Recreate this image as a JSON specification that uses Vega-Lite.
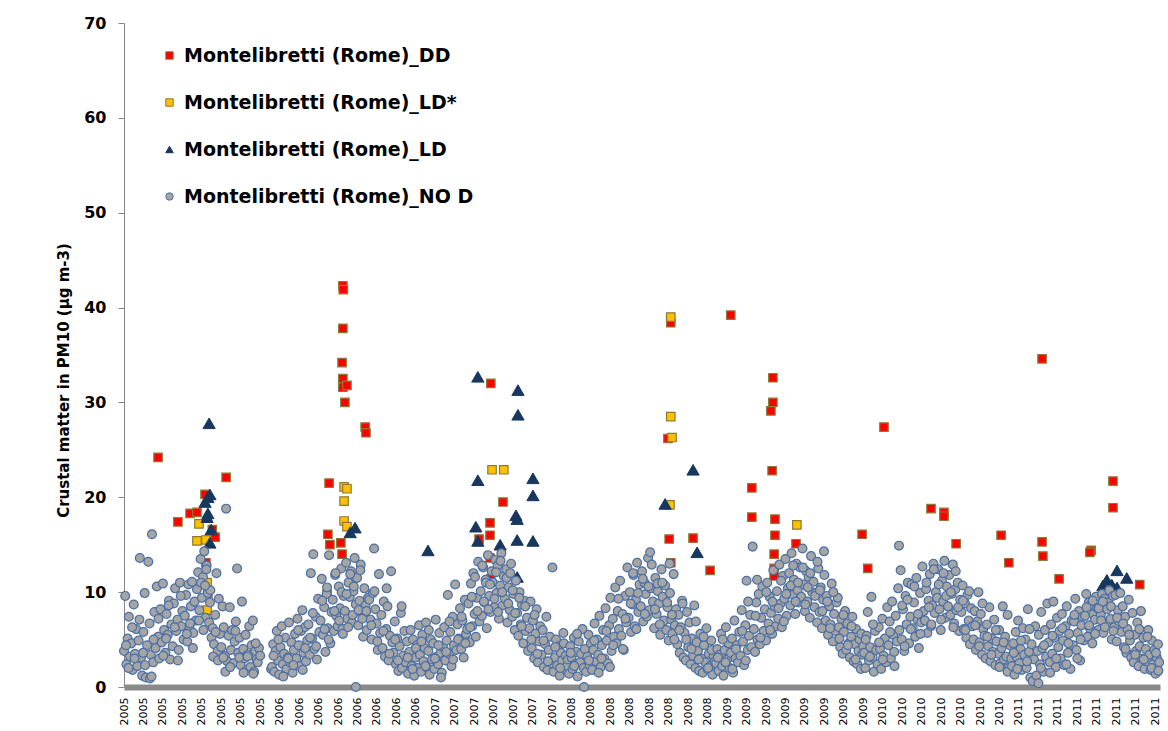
{
"$schema": "https://vega.github.io/schema/vega-lite/v6.json",
"width": 1036, "height": 664,
"autosize": {"type": "none"},
"padding": {"left": 124, "top": 23, "right": 8, "bottom": 44},
"background": "white",
"config": {"view": {"stroke": null}, "font": "DejaVu Sans"},
"datasets": {
"dd": [{"d":84,"v":24.2},{"d":133,"v":17.4},{"d":163,"v":18.3},{"d":180,"v":18.4},{"d":200,"v":20.3},{"d":252,"v":22.1},{"d":225,"v":15.8},{"d":218,"v":16.6},{"d":202,"v":13.1},
{"d":506,"v":21.5},{"d":503,"v":16.1},{"d":508,"v":15.0},{"d":535,"v":15.2},{"d":538,"v":14.0},{"d":501,"v":9.8},{"d":540,"v":42.3},{"d":541,"v":41.9},{"d":540,"v":37.8},{"d":538,"v":34.2},{"d":540,"v":32.5},{"d":540,"v":31.6},{"d":550,"v":31.8},{"d":545,"v":30.0},{"d":595,"v":27.4},{"d":597,"v":26.8},
{"d":905,"v":32.0},{"d":935,"v":19.5},{"d":903,"v":17.3},{"d":903,"v":16.0},{"d":903,"v":13.6},{"d":905,"v":11.4},{"d":876,"v":15.6},
{"d":1349,"v":38.4},{"d":1342,"v":26.2},{"d":1345,"v":15.6},{"d":1349,"v":13.1},{"d":1404,"v":15.7},{"d":1446,"v":12.3},
{"d":1497,"v":39.2},{"d":1601,"v":32.6},{"d":1601,"v":30.0},{"d":1596,"v":29.1},{"d":1599,"v":22.8},{"d":1549,"v":21.0},{"d":1549,"v":17.9},{"d":1606,"v":17.7},{"d":1606,"v":16.0},{"d":1604,"v":14.0},{"d":1604,"v":12.5},{"d":1604,"v":11.7},{"d":1658,"v":15.1},
{"d":1821,"v":16.1},{"d":1835,"v":12.5},{"d":1875,"v":27.4},{"d":1991,"v":18.8},{"d":2023,"v":18.4},{"d":2023,"v":18.0},{"d":2053,"v":15.1},{"d":2164,"v":16.0},{"d":2183,"v":13.1},
{"d":2265,"v":34.6},{"d":2265,"v":15.3},{"d":2267,"v":13.8},{"d":2307,"v":11.4},{"d":2386,"v":14.4},{"d":2383,"v":14.2},{"d":2440,"v":21.7},{"d":2440,"v":18.9},{"d":2506,"v":10.8}],
"ldstar": [{"d":185,"v":17.2},{"d":180,"v":15.4},{"d":202,"v":15.5},{"d":205,"v":11.0},{"d":207,"v":9.9},{"d":205,"v":8.1},
{"d":543,"v":21.1},{"d":550,"v":20.9},{"d":543,"v":19.6},{"d":543,"v":17.5},{"d":550,"v":16.9},
{"d":908,"v":22.9},{"d":937,"v":22.9},
{"d":1349,"v":39.0},{"d":1349,"v":28.5},{"d":1352,"v":26.3},{"d":1347,"v":19.2},
{"d":1660,"v":17.1}],
"ld": [{"d":210,"v":27.8},{"d":212,"v":20.3},{"d":200,"v":19.5},{"d":207,"v":20.0},{"d":207,"v":18.3},{"d":205,"v":17.9},{"d":215,"v":16.6},{"d":212,"v":15.2},
{"d":558,"v":16.3},{"d":570,"v":16.8},{"d":750,"v":14.4},
{"d":873,"v":32.7},{"d":972,"v":31.3},{"d":972,"v":28.7},{"d":873,"v":21.8},{"d":1009,"v":22.0},{"d":1009,"v":20.2},{"d":868,"v":16.9},{"d":873,"v":15.4},{"d":967,"v":18.1},{"d":970,"v":17.7},{"d":970,"v":15.5},{"d":1009,"v":15.4},{"d":928,"v":15.0},{"d":970,"v":11.6},
{"d":1335,"v":19.3},{"d":1404,"v":22.9},{"d":1414,"v":14.2},
{"d":2425,"v":11.3},{"d":2450,"v":12.3},{"d":2474,"v":11.5},{"d":2437,"v":10.8},{"d":2450,"v":10.5},{"d":2415,"v":10.7}],
"nod": [
{"d":0,"v":3.8},{"d":3,"v":9.6},{"d":6,"v":2.4},{"d":9,"v":5.1},{"d":12,"v":7.4},{"d":15,"v":3.2},{"d":18,"v":4.6},{"d":21,"v":1.8},{"d":24,"v":8.7},{"d":27,"v":3.5},{"d":30,"v":6.1},
{"d":33,"v":2.2},{"d":36,"v":4.9},{"d":39,"v":13.6},{"d":42,"v":3.1},{"d":45,"v":1.2},{"d":48,"v":5.8},{"d":51,"v":9.9},{"d":54,"v":1.0},{"d":57,"v":4.4},
{"d":60,"v":13.2},{"d":63,"v":6.7},{"d":66,"v":3.4},{"d":69,"v":16.1},{"d":72,"v":2.6},{"d":75,"v":7.9},{"d":78,"v":4.1},{"d":81,"v":10.6},{"d":84,"v":5.3},{"d":87,"v":3.0},
{"d":90,"v":8.2},{"d":93,"v":4.7},{"d":96,"v":10.9},{"d":99,"v":6.0},{"d":102,"v":3.6},{"d":105,"v":7.7},{"d":108,"v":5.5},{"d":111,"v":9.1},{"d":114,"v":2.9},{"d":117,"v":6.6},
{"d":120,"v":4.3},{"d":123,"v":8.8},{"d":126,"v":10.4},{"d":129,"v":5.9},{"d":132,"v":7.1},{"d":135,"v":3.9},{"d":138,"v":11.0},{"d":141,"v":6.4},{"d":144,"v":8.0},{"d":147,"v":5.0},
{"d":150,"v":7.5},{"d":153,"v":9.7},{"d":156,"v":4.8},{"d":159,"v":10.8},{"d":162,"v":6.2},{"d":165,"v":8.5},{"d":168,"v":11.1},{"d":171,"v":5.7},{"d":174,"v":9.0},{"d":177,"v":7.0},
{"d":180,"v":10.3},{"d":183,"v":12.1},{"d":186,"v":8.1},{"d":189,"v":13.5},{"d":192,"v":9.4},{"d":195,"v":11.6},{"d":198,"v":14.3},{"d":201,"v":7.3},{"d":204,"v":12.8},{"d":207,"v":9.9},
{"d":210,"v":6.8},{"d":213,"v":10.2},{"d":216,"v":5.2},{"d":219,"v":6.2},{"d":222,"v":4.5},{"d":225,"v":7.6},{"d":228,"v":12.0},{"d":231,"v":3.8},{"d":234,"v":9.3},{"d":237,"v":5.6},
{"d":240,"v":4.2},{"d":243,"v":8.5},{"d":246,"v":6.3},{"d":249,"v":3.3},{"d":252,"v":18.8},{"d":255,"v":2.7},{"d":258,"v":5.4},{"d":261,"v":8.4},{"d":264,"v":3.9},{"d":267,"v":6.0},
{"d":270,"v":2.5},{"d":273,"v":4.8},{"d":276,"v":6.9},{"d":279,"v":12.5},{"d":282,"v":3.6},{"d":285,"v":5.2},{"d":288,"v":2.3},{"d":291,"v":9.0},{"d":294,"v":4.0},{"d":297,"v":3.0},
{"d":300,"v":5.5},{"d":303,"v":1.8},{"d":306,"v":3.4},{"d":309,"v":6.4},{"d":312,"v":2.1},{"d":315,"v":4.4},{"d":318,"v":7.0},{"d":321,"v":1.6},{"d":324,"v":3.8},{"d":327,"v":2.9},
{"d":330,"v":2.6},{"d":333,"v":4.1},{"d":336,"v":3.3},{"d":363,"v":1.9},
{"d":5,"v":4.4},{"d":11,"v":2.0},{"d":20,"v":6.3},{"d":26,"v":3.0},{"d":38,"v":7.1},{"d":47,"v":3.6},{"d":52,"v":2.3},{"d":64,"v":0.9},{"d":68,"v":1.1},{"d":73,"v":5.0},{"d":85,"v":7.2},{"d":97,"v":3.3},{"d":104,"v":5.1},{"d":110,"v":8.6},{"d":125,"v":6.3},{"d":133,"v":2.8},{"d":140,"v":9.6},{"d":155,"v":5.6},{"d":163,"v":6.7},{"d":170,"v":4.1},{"d":185,"v":7.0},{"d":190,"v":11.0},{"d":196,"v":6.0},{"d":200,"v":10.7},{"d":203,"v":12.4},{"d":212,"v":8.9},{"d":220,"v":3.2},{"d":226,"v":5.8},{"d":232,"v":2.8},{"d":245,"v":3.1},{"d":250,"v":1.6},{"d":262,"v":2.1},{"d":275,"v":5.9},{"d":284,"v":3.1},{"d":295,"v":1.5},{"d":305,"v":3.2},{"d":319,"v":1.4},{"d":325,"v":4.6},
{"d":365,"v":2.1},{"d":368,"v":4.5},{"d":371,"v":1.6},{"d":374,"v":3.8},{"d":377,"v":5.9},{"d":380,"v":2.8},{"d":383,"v":1.3},{"d":386,"v":4.2},{"d":389,"v":6.4},{"d":392,"v":2.4},{"d":395,"v":3.5},
{"d":398,"v":5.2},{"d":401,"v":1.9},{"d":404,"v":3.1},{"d":407,"v":6.8},{"d":410,"v":2.6},{"d":413,"v":4.7},{"d":416,"v":1.5},{"d":419,"v":3.9},{"d":422,"v":5.6},
{"d":425,"v":3.0},{"d":428,"v":7.2},{"d":431,"v":4.4},{"d":434,"v":2.2},{"d":437,"v":5.9},{"d":440,"v":8.1},{"d":443,"v":3.6},{"d":446,"v":6.3},{"d":449,"v":2.7},{"d":452,"v":4.9},
{"d":455,"v":6.6},{"d":458,"v":3.4},{"d":461,"v":12.0},{"d":464,"v":5.1},{"d":467,"v":14.0},{"d":470,"v":4.0},{"d":473,"v":7.4},{"d":476,"v":2.9},{"d":479,"v":9.3},{"d":482,"v":5.8},
{"d":485,"v":7.0},{"d":488,"v":11.4},{"d":491,"v":5.5},{"d":494,"v":8.4},{"d":497,"v":3.7},{"d":500,"v":9.8},{"d":503,"v":6.2},{"d":506,"v":13.9},{"d":509,"v":4.6},{"d":512,"v":7.9},
{"d":515,"v":9.2},{"d":518,"v":5.9},{"d":521,"v":11.8},{"d":524,"v":7.5},{"d":527,"v":6.4},{"d":530,"v":10.6},{"d":533,"v":8.3},{"d":536,"v":12.5},{"d":539,"v":6.1},{"d":542,"v":9.6},
{"d":545,"v":8.0},{"d":548,"v":13.1},{"d":551,"v":7.2},{"d":554,"v":11.0},{"d":557,"v":9.5},{"d":560,"v":12.2},{"d":563,"v":6.8},{"d":566,"v":10.1},{"d":569,"v":13.6},{"d":572,"v":8.7},
{"d":575,"v":11.5},{"d":578,"v":6.5},{"d":581,"v":9.1},{"d":584,"v":12.9},{"d":587,"v":7.7},{"d":590,"v":5.3},{"d":593,"v":10.4},{"d":596,"v":8.6},{"d":599,"v":6.0},{"d":602,"v":9.4},
{"d":605,"v":9.2},{"d":608,"v":7.1},{"d":611,"v":5.0},{"d":614,"v":9.9},{"d":617,"v":14.6},{"d":620,"v":8.2},{"d":623,"v":6.7},{"d":626,"v":3.9},{"d":629,"v":11.9},{"d":632,"v":5.7},
{"d":635,"v":7.6},{"d":638,"v":4.1},{"d":641,"v":9.0},{"d":644,"v":3.2},{"d":647,"v":6.1},{"d":650,"v":8.5},{"d":653,"v":2.8},{"d":656,"v":5.4},{"d":659,"v":12.2},{"d":662,"v":4.7},
{"d":665,"v":3.6},{"d":668,"v":6.9},{"d":671,"v":2.4},{"d":674,"v":5.1},{"d":677,"v":1.7},{"d":680,"v":4.3},{"d":683,"v":7.8},{"d":686,"v":2.0},{"d":689,"v":3.3},{"d":692,"v":5.9},
{"d":695,"v":2.6},{"d":698,"v":4.8},{"d":701,"v":1.4},{"d":704,"v":3.7},{"d":707,"v":6.0},{"d":710,"v":2.2},{"d":713,"v":5.0},{"d":716,"v":1.2},{"d":719,"v":3.1},{"d":722,"v":4.4},{"d":725,"v":2.0},{"d":728,"v":6.5},
{"d":369,"v":3.3},{"d":381,"v":5.0},{"d":393,"v":1.1},{"d":405,"v":3.0},{"d":418,"v":2.3},{"d":430,"v":6.0},{"d":441,"v":1.8},{"d":447,"v":4.1},{"d":459,"v":5.2},{"d":466,"v":7.8},{"d":474,"v":4.3},{"d":489,"v":9.1},{"d":495,"v":6.1},{"d":501,"v":10.5},{"d":505,"v":5.0},{"d":519,"v":8.0},{"d":522,"v":12.0},{"d":531,"v":7.0},{"d":537,"v":10.0},{"d":540,"v":5.6},{"d":549,"v":9.8},{"d":553,"v":6.3},{"d":558,"v":11.9},{"d":564,"v":7.6},{"d":567,"v":10.6},{"d":572,"v":0.0},{"d":579,"v":8.1},{"d":583,"v":12.3},{"d":588,"v":7.2},{"d":598,"v":8.0},{"d":610,"v":6.5},{"d":618,"v":10.1},{"d":625,"v":4.8},{"d":640,"v":5.9},{"d":648,"v":10.4},{"d":655,"v":3.5},{"d":669,"v":5.0},{"d":676,"v":2.8},{"d":685,"v":8.5},{"d":700,"v":3.1},{"d":712,"v":1.9},{"d":720,"v":4.1},
{"d":730,"v":3.4},{"d":733,"v":1.6},{"d":736,"v":5.5},{"d":739,"v":2.7},{"d":742,"v":4.1},{"d":745,"v":6.8},{"d":748,"v":2.0},{"d":751,"v":3.8},{"d":754,"v":1.3},{"d":757,"v":5.0},{"d":760,"v":2.9},
{"d":763,"v":4.6},{"d":766,"v":1.9},{"d":769,"v":7.1},{"d":772,"v":3.2},{"d":775,"v":2.4},{"d":778,"v":5.7},{"d":781,"v":3.6},{"d":784,"v":1.5},{"d":787,"v":4.2},
{"d":790,"v":6.3},{"d":793,"v":2.8},{"d":796,"v":4.9},{"d":799,"v":9.7},{"d":802,"v":3.5},{"d":805,"v":5.8},{"d":808,"v":2.2},{"d":811,"v":7.4},{"d":814,"v":4.4},{"d":817,"v":10.8},
{"d":820,"v":3.9},{"d":823,"v":6.6},{"d":826,"v":5.1},{"d":829,"v":8.3},{"d":832,"v":4.0},{"d":835,"v":7.0},{"d":838,"v":3.1},{"d":841,"v":9.2},{"d":844,"v":5.6},{"d":847,"v":6.1},
{"d":850,"v":8.8},{"d":853,"v":4.7},{"d":856,"v":10.9},{"d":859,"v":6.4},{"d":862,"v":12.0},{"d":865,"v":7.7},{"d":868,"v":5.3},{"d":871,"v":9.4},{"d":874,"v":13.2},{"d":877,"v":6.9},
{"d":880,"v":10.1},{"d":883,"v":7.5},{"d":886,"v":12.6},{"d":889,"v":8.9},{"d":892,"v":11.3},{"d":895,"v":6.2},{"d":898,"v":13.9},{"d":901,"v":9.6},{"d":904,"v":7.9},{"d":907,"v":12.2},
{"d":910,"v":11.0},{"d":913,"v":8.4},{"d":916,"v":13.4},{"d":919,"v":9.9},{"d":922,"v":12.8},{"d":925,"v":7.2},{"d":928,"v":10.7},{"d":931,"v":14.1},{"d":934,"v":8.6},{"d":937,"v":11.7},
{"d":940,"v":9.3},{"d":943,"v":12.4},{"d":946,"v":6.8},{"d":949,"v":10.5},{"d":952,"v":8.1},{"d":955,"v":13.0},{"d":958,"v":7.4},{"d":961,"v":9.8},{"d":964,"v":6.0},{"d":967,"v":11.2},
{"d":970,"v":7.8},{"d":973,"v":5.4},{"d":976,"v":10.0},{"d":979,"v":6.6},{"d":982,"v":8.7},{"d":985,"v":4.6},{"d":988,"v":9.1},{"d":991,"v":5.9},{"d":994,"v":7.3},{"d":997,"v":3.8},
{"d":1000,"v":6.2},{"d":1003,"v":9.0},{"d":1006,"v":4.1},{"d":1009,"v":7.0},{"d":1012,"v":3.0},{"d":1015,"v":5.6},{"d":1018,"v":8.2},{"d":1021,"v":2.6},{"d":1024,"v":4.8},{"d":1027,"v":6.4},
{"d":1030,"v":3.4},{"d":1033,"v":6.0},{"d":1036,"v":2.1},{"d":1039,"v":4.5},{"d":1042,"v":7.4},{"d":1045,"v":1.8},{"d":1048,"v":3.9},{"d":1051,"v":5.3},{"d":1054,"v":2.5},{"d":1057,"v":12.6},
{"d":1060,"v":1.6},{"d":1063,"v":3.1},{"d":1066,"v":5.0},{"d":1069,"v":2.3},{"d":1072,"v":4.3},{"d":1075,"v":1.2},{"d":1078,"v":3.6},{"d":1081,"v":2.8},{"d":1084,"v":5.7},{"d":1087,"v":1.9},{"d":1090,"v":3.3},{"d":1093,"v":2.2},
{"d":734,"v":4.8},{"d":744,"v":2.2},{"d":752,"v":6.0},{"d":767,"v":3.0},{"d":776,"v":4.4},{"d":782,"v":1.0},{"d":795,"v":3.7},{"d":803,"v":6.9},{"d":812,"v":2.9},{"d":824,"v":5.0},{"d":833,"v":7.4},{"d":842,"v":4.6},{"d":854,"v":6.3},{"d":858,"v":9.5},{"d":866,"v":11.6},{"d":872,"v":8.0},{"d":884,"v":12.8},{"d":888,"v":9.0},{"d":893,"v":11.0},{"d":899,"v":8.2},{"d":903,"v":10.8},{"d":914,"v":9.3},{"d":918,"v":12.1},{"d":923,"v":7.9},{"d":929,"v":13.3},{"d":933,"v":10.0},{"d":944,"v":11.5},{"d":948,"v":8.8},{"d":953,"v":12.0},{"d":959,"v":10.2},{"d":965,"v":7.8},{"d":975,"v":9.4},{"d":981,"v":6.4},{"d":990,"v":8.5},{"d":1005,"v":5.0},{"d":1013,"v":7.6},{"d":1020,"v":3.5},{"d":1035,"v":4.9},{"d":1046,"v":2.7},{"d":1064,"v":4.2},{"d":1076,"v":2.0},{"d":1085,"v":4.6},
{"d":1095,"v":2.9},{"d":1098,"v":1.4},{"d":1101,"v":4.3},{"d":1104,"v":3.1},{"d":1107,"v":1.9},{"d":1110,"v":5.2},{"d":1113,"v":2.4},{"d":1116,"v":3.7},{"d":1119,"v":1.1},{"d":1122,"v":4.8},{"d":1125,"v":2.6},
{"d":1128,"v":3.5},{"d":1131,"v":6.1},{"d":1134,"v":2.0},{"d":1137,"v":4.0},{"d":1140,"v":1.6},{"d":1143,"v":3.2},{"d":1146,"v":5.5},{"d":1149,"v":2.3},{"d":1152,"v":4.6},
{"d":1155,"v":1.8},{"d":1158,"v":3.9},{"d":1161,"v":6.7},{"d":1164,"v":2.7},{"d":1167,"v":5.0},{"d":1170,"v":3.4},{"d":1173,"v":7.5},{"d":1176,"v":2.1},{"d":1179,"v":4.4},{"d":1182,"v":6.0},
{"d":1185,"v":3.0},{"d":1188,"v":8.3},{"d":1191,"v":4.9},{"d":1194,"v":2.5},{"d":1197,"v":6.5},{"d":1200,"v":9.4},{"d":1203,"v":3.8},{"d":1206,"v":7.2},{"d":1209,"v":5.3},{"d":1212,"v":10.5},
{"d":1215,"v":4.6},{"d":1218,"v":8.0},{"d":1221,"v":6.1},{"d":1224,"v":11.2},{"d":1227,"v":5.4},{"d":1230,"v":7.7},{"d":1233,"v":3.9},{"d":1236,"v":9.6},{"d":1239,"v":6.8},{"d":1242,"v":12.6},
{"d":1245,"v":7.3},{"d":1248,"v":10.0},{"d":1251,"v":5.8},{"d":1254,"v":8.7},{"d":1257,"v":11.8},{"d":1260,"v":6.4},{"d":1263,"v":9.2},{"d":1266,"v":13.1},{"d":1269,"v":7.9},{"d":1272,"v":10.8},
{"d":1275,"v":8.5},{"d":1278,"v":12.2},{"d":1281,"v":6.9},{"d":1284,"v":11.0},{"d":1287,"v":9.8},{"d":1290,"v":7.4},{"d":1293,"v":13.6},{"d":1296,"v":8.1},{"d":1299,"v":10.4},{"d":1302,"v":12.9},
{"d":1305,"v":9.0},{"d":1308,"v":6.2},{"d":1311,"v":11.5},{"d":1314,"v":7.7},{"d":1317,"v":10.1},{"d":1320,"v":8.8},{"d":1323,"v":5.5},{"d":1326,"v":12.4},{"d":1329,"v":9.5},{"d":1332,"v":7.0},
{"d":1335,"v":10.7},{"d":1338,"v":6.0},{"d":1341,"v":8.4},{"d":1344,"v":4.9},{"d":1347,"v":9.9},{"d":1350,"v":7.1},{"d":1353,"v":5.6},{"d":1356,"v":11.9},{"d":1359,"v":6.5},{"d":1362,"v":8.2},
{"d":1365,"v":4.5},{"d":1368,"v":7.6},{"d":1371,"v":3.6},{"d":1374,"v":6.3},{"d":1377,"v":9.1},{"d":1380,"v":3.1},{"d":1383,"v":5.7},{"d":1386,"v":2.8},{"d":1389,"v":7.9},{"d":1392,"v":4.2},
{"d":1395,"v":6.8},{"d":1398,"v":2.4},{"d":1401,"v":5.1},{"d":1404,"v":3.3},{"d":1407,"v":8.6},{"d":1410,"v":2.0},{"d":1413,"v":4.7},{"d":1416,"v":3.8},{"d":1419,"v":1.7},{"d":1422,"v":5.6},
{"d":1425,"v":3.0},{"d":1428,"v":1.5},{"d":1431,"v":4.4},{"d":1434,"v":2.6},{"d":1437,"v":6.2},{"d":1440,"v":1.9},{"d":1443,"v":3.5},{"d":1446,"v":2.2},{"d":1449,"v":4.9},{"d":1452,"v":1.3},{"d":1455,"v":3.2},{"d":1458,"v":2.7},
{"d":1102,"v":3.6},{"d":1111,"v":2.2},{"d":1118,"v":5.6},{"d":1135,"v":0.0},{"d":1147,"v":2.8},{"d":1160,"v":4.9},{"d":1171,"v":1.5},{"d":1178,"v":3.0},{"d":1190,"v":5.9},{"d":1199,"v":2.1},{"d":1207,"v":4.4},{"d":1220,"v":9.3},{"d":1231,"v":4.0},{"d":1237,"v":7.2},{"d":1250,"v":8.8},{"d":1256,"v":12.0},{"d":1264,"v":6.1},{"d":1268,"v":9.9},{"d":1280,"v":11.4},{"d":1285,"v":7.7},{"d":1294,"v":10.6},{"d":1298,"v":14.2},{"d":1310,"v":8.2},{"d":1316,"v":10.9},{"d":1322,"v":6.6},{"d":1328,"v":11.0},{"d":1340,"v":8.9},{"d":1346,"v":13.0},{"d":1352,"v":7.6},{"d":1358,"v":5.0},{"d":1370,"v":6.0},{"d":1378,"v":8.8},{"d":1387,"v":5.0},{"d":1400,"v":4.0},{"d":1411,"v":6.9},{"d":1418,"v":2.9},{"d":1430,"v":5.3},{"d":1441,"v":2.0},{"d":1450,"v":3.9},
{"d":1461,"v":2.5},{"d":1464,"v":4.0},{"d":1467,"v":1.7},{"d":1470,"v":3.4},{"d":1473,"v":5.6},{"d":1476,"v":2.2},{"d":1479,"v":1.2},{"d":1482,"v":3.9},{"d":1485,"v":6.3},{"d":1488,"v":2.9},{"d":1491,"v":4.6},
{"d":1494,"v":2.0},{"d":1497,"v":3.6},{"d":1500,"v":5.1},{"d":1503,"v":1.5},{"d":1506,"v":7.0},{"d":1509,"v":3.0},{"d":1512,"v":4.4},{"d":1515,"v":2.6},{"d":1518,"v":5.8},
{"d":1521,"v":3.3},{"d":1524,"v":8.1},{"d":1527,"v":4.8},{"d":1530,"v":2.3},{"d":1533,"v":6.5},{"d":1536,"v":11.2},{"d":1539,"v":3.9},{"d":1542,"v":5.4},{"d":1545,"v":7.6},{"d":1548,"v":4.2},
{"d":1551,"v":14.8},{"d":1554,"v":6.1},{"d":1557,"v":3.7},{"d":1560,"v":8.9},{"d":1563,"v":5.0},{"d":1566,"v":9.8},{"d":1569,"v":4.5},{"d":1572,"v":7.3},{"d":1575,"v":10.6},{"d":1578,"v":5.9},
{"d":1581,"v":8.2},{"d":1584,"v":4.9},{"d":1587,"v":11.0},{"d":1590,"v":6.7},{"d":1593,"v":9.5},{"d":1596,"v":7.8},{"d":1599,"v":5.6},{"d":1602,"v":12.3},{"d":1605,"v":8.5},{"d":1608,"v":6.4},
{"d":1611,"v":10.1},{"d":1614,"v":7.2},{"d":1617,"v":12.9},{"d":1620,"v":8.8},{"d":1623,"v":6.3},{"d":1626,"v":11.7},{"d":1629,"v":9.3},{"d":1632,"v":13.5},{"d":1635,"v":7.5},{"d":1638,"v":10.4},
{"d":1641,"v":12.0},{"d":1644,"v":8.6},{"d":1647,"v":14.1},{"d":1650,"v":9.7},{"d":1653,"v":11.3},{"d":1656,"v":7.7},{"d":1659,"v":13.0},{"d":1662,"v":10.2},{"d":1665,"v":8.9},{"d":1668,"v":12.6},
{"d":1671,"v":9.5},{"d":1674,"v":14.6},{"d":1677,"v":10.8},{"d":1680,"v":8.0},{"d":1683,"v":12.2},{"d":1686,"v":9.0},{"d":1689,"v":11.6},{"d":1692,"v":7.3},{"d":1695,"v":13.8},{"d":1698,"v":10.0},
{"d":1701,"v":11.1},{"d":1704,"v":8.4},{"d":1707,"v":9.9},{"d":1710,"v":6.8},{"d":1713,"v":12.5},{"d":1716,"v":7.9},{"d":1719,"v":10.5},{"d":1722,"v":6.2},{"d":1725,"v":9.2},{"d":1728,"v":11.8},
{"d":1731,"v":7.0},{"d":1734,"v":9.6},{"d":1737,"v":5.5},{"d":1740,"v":8.5},{"d":1743,"v":6.6},{"d":1746,"v":10.9},{"d":1749,"v":4.8},{"d":1752,"v":7.7},{"d":1755,"v":5.9},{"d":1758,"v":8.9},
{"d":1761,"v":9.4},{"d":1764,"v":6.3},{"d":1767,"v":4.2},{"d":1770,"v":7.2},{"d":1773,"v":3.5},{"d":1776,"v":5.8},{"d":1779,"v":8.0},{"d":1782,"v":3.9},{"d":1785,"v":6.7},{"d":1788,"v":4.6},
{"d":1791,"v":3.1},{"d":1794,"v":5.3},{"d":1797,"v":7.4},{"d":1800,"v":2.7},{"d":1803,"v":4.5},{"d":1806,"v":6.1},{"d":1809,"v":2.4},{"d":1812,"v":3.8},{"d":1815,"v":5.0},{"d":1818,"v":1.9},{"d":1821,"v":3.4},{"d":1824,"v":4.3},
{"d":1465,"v":3.1},{"d":1477,"v":5.0},{"d":1484,"v":2.6},{"d":1501,"v":1.9},{"d":1510,"v":4.0},{"d":1525,"v":5.9},{"d":1534,"v":2.8},{"d":1540,"v":9.0},{"d":1558,"v":7.5},{"d":1562,"v":11.3},{"d":1570,"v":5.2},{"d":1585,"v":10.0},{"d":1594,"v":6.0},{"d":1600,"v":9.0},{"d":1615,"v":8.3},{"d":1621,"v":11.2},{"d":1628,"v":6.9},{"d":1634,"v":9.8},{"d":1645,"v":10.7},{"d":1651,"v":12.8},{"d":1657,"v":9.0},{"d":1663,"v":11.0},{"d":1675,"v":12.6},{"d":1681,"v":8.7},{"d":1687,"v":10.5},{"d":1693,"v":12.0},{"d":1705,"v":9.6},{"d":1711,"v":13.2},{"d":1717,"v":10.2},{"d":1723,"v":8.0},{"d":1727,"v":14.3},{"d":1735,"v":9.0},{"d":1742,"v":6.2},{"d":1750,"v":10.0},{"d":1765,"v":5.1},{"d":1775,"v":7.6},{"d":1786,"v":4.4},{"d":1795,"v":6.4},{"d":1805,"v":2.9},{"d":1819,"v":5.6},
{"d":1826,"v":3.6},{"d":1829,"v":2.0},{"d":1832,"v":5.4},{"d":1835,"v":7.9},{"d":1838,"v":2.8},{"d":1841,"v":4.2},{"d":1844,"v":9.5},{"d":1847,"v":3.1},{"d":1850,"v":1.6},{"d":1853,"v":5.9},{"d":1856,"v":3.9},
{"d":1859,"v":2.4},{"d":1862,"v":6.3},{"d":1865,"v":4.0},{"d":1868,"v":1.9},{"d":1871,"v":7.2},{"d":1874,"v":3.3},{"d":1877,"v":5.1},{"d":1880,"v":2.6},{"d":1883,"v":8.4},
{"d":1886,"v":4.4},{"d":1889,"v":6.9},{"d":1892,"v":3.0},{"d":1895,"v":9.0},{"d":1898,"v":5.5},{"d":1901,"v":2.2},{"d":1904,"v":7.5},{"d":1907,"v":4.8},{"d":1910,"v":10.4},{"d":1913,"v":6.0},
{"d":1916,"v":12.3},{"d":1919,"v":5.0},{"d":1922,"v":8.2},{"d":1925,"v":3.8},{"d":1928,"v":9.6},{"d":1931,"v":6.6},{"d":1934,"v":11.0},{"d":1937,"v":4.6},{"d":1940,"v":7.4},{"d":1943,"v":10.8},
{"d":1946,"v":6.2},{"d":1949,"v":8.9},{"d":1952,"v":5.3},{"d":1955,"v":11.5},{"d":1958,"v":7.1},{"d":1961,"v":4.1},{"d":1964,"v":9.9},{"d":1967,"v":6.8},{"d":1970,"v":12.7},{"d":1973,"v":8.0},
{"d":1976,"v":7.0},{"d":1979,"v":10.3},{"d":1982,"v":5.7},{"d":1985,"v":9.1},{"d":1988,"v":11.9},{"d":1991,"v":6.4},{"d":1994,"v":8.6},{"d":1997,"v":13.0},{"d":2000,"v":7.8},{"d":2003,"v":10.0},
{"d":2006,"v":9.4},{"d":2009,"v":12.4},{"d":2012,"v":8.2},{"d":2015,"v":6.0},{"d":2018,"v":11.2},{"d":2021,"v":9.0},{"d":2024,"v":13.3},{"d":2027,"v":7.3},{"d":2030,"v":10.6},{"d":2033,"v":8.5},
{"d":2036,"v":11.8},{"d":2039,"v":7.6},{"d":2042,"v":9.8},{"d":2045,"v":12.9},{"d":2048,"v":6.7},{"d":2051,"v":10.3},{"d":2054,"v":8.1},{"d":2057,"v":11.0},{"d":2060,"v":5.9},{"d":2063,"v":9.2},
{"d":2066,"v":7.9},{"d":2069,"v":10.7},{"d":2072,"v":6.1},{"d":2075,"v":8.8},{"d":2078,"v":5.2},{"d":2081,"v":9.7},{"d":2084,"v":7.0},{"d":2087,"v":4.5},{"d":2090,"v":8.3},{"d":2093,"v":6.4},
{"d":2096,"v":5.0},{"d":2099,"v":8.0},{"d":2102,"v":3.9},{"d":2105,"v":6.9},{"d":2108,"v":10.0},{"d":2111,"v":4.7},{"d":2114,"v":7.7},{"d":2117,"v":3.4},{"d":2120,"v":6.1},{"d":2123,"v":5.4},
{"d":2126,"v":3.0},{"d":2129,"v":6.6},{"d":2132,"v":4.3},{"d":2135,"v":8.4},{"d":2138,"v":2.7},{"d":2141,"v":5.1},{"d":2144,"v":3.7},{"d":2147,"v":7.1},{"d":2150,"v":2.3},{"d":2153,"v":4.8},
{"d":2156,"v":3.5},{"d":2159,"v":6.0},{"d":2162,"v":2.5},{"d":2165,"v":4.1},{"d":2168,"v":8.5},{"d":2171,"v":2.9},{"d":2174,"v":5.3},{"d":2177,"v":3.2},{"d":2180,"v":7.6},{"d":2183,"v":2.0},{"d":2186,"v":4.4},{"d":2189,"v":3.0},
{"d":1830,"v":5.0},{"d":1840,"v":3.2},{"d":1848,"v":6.6},{"d":1863,"v":4.7},{"d":1872,"v":2.9},{"d":1890,"v":5.8},{"d":1900,"v":3.7},{"d":1912,"v":14.9},{"d":1920,"v":8.6},{"d":1926,"v":4.3},{"d":1933,"v":9.2},{"d":1941,"v":6.1},{"d":1950,"v":10.6},{"d":1959,"v":7.7},{"d":1965,"v":5.6},{"d":1980,"v":11.0},{"d":1986,"v":8.4},{"d":1992,"v":6.6},{"d":1998,"v":12.4},{"d":2010,"v":10.8},{"d":2016,"v":7.1},{"d":2022,"v":12.0},{"d":2028,"v":9.6},{"d":2040,"v":10.0},{"d":2046,"v":6.3},{"d":2052,"v":12.2},{"d":2058,"v":8.4},{"d":2070,"v":9.1},{"d":2076,"v":6.0},{"d":2085,"v":10.1},{"d":2100,"v":6.5},{"d":2110,"v":4.3},{"d":2118,"v":8.8},{"d":2130,"v":5.3},{"d":2140,"v":3.4},{"d":2151,"v":6.0},{"d":2160,"v":2.1},{"d":2170,"v":4.7},{"d":2180,"v":1.6},
{"d":2191,"v":2.2},{"d":2194,"v":4.6},{"d":2197,"v":1.3},{"d":2200,"v":5.8},{"d":2203,"v":3.1},{"d":2206,"v":7.0},{"d":2209,"v":2.5},{"d":2212,"v":4.0},{"d":2215,"v":1.8},{"d":2218,"v":6.2},{"d":2221,"v":3.4},
{"d":2224,"v":5.0},{"d":2227,"v":2.0},{"d":2230,"v":8.2},{"d":2233,"v":3.7},{"d":2236,"v":1.0},{"d":2239,"v":4.5},{"d":2242,"v":0.6},{"d":2245,"v":2.9},{"d":2248,"v":6.4},
{"d":2251,"v":1.2},{"d":2254,"v":3.8},{"d":2257,"v":5.5},{"d":2260,"v":2.4},{"d":2263,"v":7.9},{"d":2266,"v":4.1},{"d":2269,"v":1.6},{"d":2272,"v":6.0},{"d":2275,"v":3.2},{"d":2278,"v":8.8},
{"d":2281,"v":4.7},{"d":2284,"v":2.6},{"d":2287,"v":6.6},{"d":2290,"v":3.5},{"d":2293,"v":9.0},{"d":2296,"v":5.2},{"d":2299,"v":2.1},{"d":2302,"v":7.3},{"d":2305,"v":4.2},{"d":2308,"v":5.9},
{"d":2311,"v":3.0},{"d":2314,"v":7.7},{"d":2317,"v":4.9},{"d":2320,"v":2.3},{"d":2323,"v":6.4},{"d":2326,"v":8.5},{"d":2329,"v":3.6},{"d":2332,"v":5.6},{"d":2335,"v":1.9},{"d":2338,"v":7.0},
{"d":2341,"v":4.4},{"d":2344,"v":6.9},{"d":2347,"v":9.3},{"d":2350,"v":3.9},{"d":2353,"v":5.7},{"d":2356,"v":8.0},{"d":2359,"v":2.8},{"d":2362,"v":6.5},{"d":2365,"v":7.4},{"d":2368,"v":4.9},
{"d":2371,"v":7.5},{"d":2374,"v":9.8},{"d":2377,"v":5.3},{"d":2380,"v":8.9},{"d":2383,"v":6.2},{"d":2386,"v":8.7},{"d":2389,"v":4.6},{"d":2392,"v":7.7},{"d":2395,"v":7.1},{"d":2398,"v":9.5},
{"d":2401,"v":8.3},{"d":2404,"v":6.0},{"d":2407,"v":8.4},{"d":2410,"v":7.6},{"d":2413,"v":9.8},{"d":2416,"v":5.7},{"d":2419,"v":9.3},{"d":2422,"v":8.6},{"d":2425,"v":6.8},{"d":2428,"v":8.9},
{"d":2431,"v":10.2},{"d":2434,"v":7.2},{"d":2437,"v":5.0},{"d":2440,"v":9.6},{"d":2443,"v":6.3},{"d":2446,"v":9.7},{"d":2449,"v":4.8},{"d":2452,"v":8.1},{"d":2455,"v":6.9},{"d":2458,"v":9.9},
{"d":2461,"v":5.8},{"d":2464,"v":8.5},{"d":2467,"v":4.2},{"d":2470,"v":7.4},{"d":2473,"v":3.6},{"d":2476,"v":6.1},{"d":2479,"v":9.2},{"d":2482,"v":4.9},{"d":2485,"v":3.1},{"d":2488,"v":7.8},
{"d":2491,"v":2.6},{"d":2494,"v":5.5},{"d":2497,"v":3.8},{"d":2500,"v":6.8},{"d":2503,"v":2.2},{"d":2506,"v":4.3},{"d":2509,"v":8.0},{"d":2512,"v":3.0},{"d":2515,"v":5.2},{"d":2518,"v":1.9},
{"d":2521,"v":4.0},{"d":2524,"v":2.7},{"d":2527,"v":6.0},{"d":2530,"v":3.4},{"d":2533,"v":1.8},{"d":2536,"v":4.9},{"d":2539,"v":2.4},{"d":2542,"v":3.9},{"d":2545,"v":1.4},{"d":2548,"v":3.1},{"d":2551,"v":4.5},{"d":2554,"v":2.6},
{"d":2195,"v":3.6},{"d":2204,"v":1.9},{"d":2213,"v":4.9},{"d":2228,"v":2.7},{"d":2234,"v":6.1},{"d":2256,"v":0.4},{"d":2262,"v":2.0},{"d":2270,"v":4.4},{"d":2285,"v":1.5},{"d":2291,"v":5.4},{"d":2300,"v":3.0},{"d":2315,"v":6.2},{"d":2325,"v":2.4},{"d":2330,"v":4.6},{"d":2345,"v":7.6},{"d":2352,"v":3.0},{"d":2360,"v":5.0},{"d":2375,"v":8.4},{"d":2381,"v":6.5},{"d":2390,"v":9.1},{"d":2396,"v":5.6},{"d":2405,"v":8.3},{"d":2411,"v":7.0},{"d":2415,"v":9.0},{"d":2420,"v":6.3},{"d":2426,"v":8.2},{"d":2435,"v":8.5},{"d":2441,"v":5.9},{"d":2450,"v":7.3},{"d":2465,"v":6.7},{"d":2471,"v":4.0},{"d":2480,"v":5.5},{"d":2495,"v":3.4},{"d":2505,"v":6.1},{"d":2516,"v":2.9},{"d":2525,"v":5.3},{"d":2535,"v":2.0},{"d":2546,"v":3.6},{"d":2552,"v":1.7}
]
},
"encoding": {
  "x": {"field": "d", "type": "quantitative",
    "scale": {"domain": [0, 2556], "nice": false, "zero": false},
    "axis": {"values": [0,48,96,144,192,240,288,336,384,432,480,528,576,624,672,720,768,816,864,912,960,1008,1056,1104,1152,1200,1248,1296,1344,1392,1440,1488,1536,1584,1632,1680,1728,1776,1824,1872,1920,1968,2016,2064,2112,2160,2208,2256,2304,2352,2400,2448,2496,2544],
      "labelExpr": "timeFormat(datetime(2005, 0, 1 + datum.value), '%Y')",
      "labelAngle": -90, "labelAlign": "right", "labelBaseline": "middle",
      "labelFont": "DejaVu Sans", "labelFontSize": 11, "labelColor": "#000000",
      "labelOverlap": false, "labelBound": false, "labelFlush": false, "labelPadding": 10,
      "domainColor": "#8a8a8a", "domainWidth": 6, "domainCap": "butt",
      "ticks": false,
      "grid": false, "title": null}},
  "y": {"field": "v", "type": "quantitative",
    "scale": {"domain": [0, 70], "nice": false, "zero": true},
    "axis": {"values": [0,10,20,30,40,50,60,70],
      "title": "Crustal matter in PM10 (µg m-3)",
      "titleFont": "DejaVu Sans", "titleFontSize": 15, "titleFontWeight": "bold", "titleColor": "#000000",
      "titleAngle": -90, "titleX": -61, "titleY": 357, "titleAlign": "center", "titleBaseline": "middle",
      "labelFont": "DejaVu Sans", "labelFontSize": 16, "labelFontWeight": "bold", "labelColor": "#000000",
      "labelPadding": 12, "tickSize": 6, "tickColor": "#868686", "domainColor": "#868686",
      "grid": false}}
},
"layer": [
  {"data": {"name": "dd"},
   "mark": {"type": "point", "filled": true, "opacity": 1, "size": 72, "strokeWidth": 1.2},
   "encoding": {
     "fill": {"datum": "DD", "type": "nominal",
       "scale": {"domain": ["DD","LD*","LD","NO D"], "range": ["#FF0000","#FFC000","#17375E","#A5A5A5"]},
       "legend": {"title": null, "orient": "none", "legendX": 36, "legendY": 23, "padding": 0,
         "labelExpr": "'Montelibretti (Rome)_' + datum.label",
         "labelFont": "DejaVu Sans", "labelFontSize": 19, "labelFontWeight": "bold", "labelColor": "#000000",
         "labelLimit": 0, "labelOffset": 5, "symbolSize": 55, "symbolStrokeWidth": 1, "rowPadding": 27}},
     "stroke": {"datum": "DD", "type": "nominal",
       "scale": {"domain": ["DD","LD*","LD","NO D"], "range": ["#8C7A34","#8C7A34","#17375E","#4A6FA5"]},
       "legend": {"title": null, "orient": "none", "legendX": 36, "legendY": 23, "padding": 0,
         "labelExpr": "'Montelibretti (Rome)_' + datum.label",
         "labelFont": "DejaVu Sans", "labelFontSize": 19, "labelFontWeight": "bold", "labelColor": "#000000",
         "labelLimit": 0, "labelOffset": 5, "symbolSize": 55, "symbolStrokeWidth": 1, "rowPadding": 27}},
     "shape": {"datum": "DD", "type": "nominal",
       "scale": {"domain": ["DD","LD*","LD","NO D"], "range": ["square","square","triangle-up","circle"]},
       "legend": {"title": null, "orient": "none", "legendX": 36, "legendY": 23, "padding": 0,
         "labelExpr": "'Montelibretti (Rome)_' + datum.label",
         "labelFont": "DejaVu Sans", "labelFontSize": 19, "labelFontWeight": "bold", "labelColor": "#000000",
         "labelLimit": 0, "labelOffset": 5, "symbolSize": 55, "symbolStrokeWidth": 1, "rowPadding": 27}}
   }},
  {"data": {"name": "ldstar"},
   "mark": {"type": "point", "filled": true, "opacity": 1, "size": 72, "strokeWidth": 1.2},
   "encoding": {
     "fill": {"datum": "LD*", "type": "nominal", "scale": {"domain": ["DD","LD*","LD","NO D"], "range": ["#FF0000","#FFC000","#17375E","#A5A5A5"]}},
     "stroke": {"datum": "LD*", "type": "nominal", "scale": {"domain": ["DD","LD*","LD","NO D"], "range": ["#8C7A34","#8C7A34","#17375E","#4A6FA5"]}},
     "shape": {"datum": "LD*", "type": "nominal", "scale": {"domain": ["DD","LD*","LD","NO D"], "range": ["square","square","triangle-up","circle"]}}
   }},
  {"data": {"name": "ld"},
   "mark": {"type": "point", "filled": true, "opacity": 1, "size": 150, "strokeWidth": 1},
   "encoding": {
     "fill": {"datum": "LD", "type": "nominal", "scale": {"domain": ["DD","LD*","LD","NO D"], "range": ["#FF0000","#FFC000","#17375E","#A5A5A5"]}},
     "stroke": {"datum": "LD", "type": "nominal", "scale": {"domain": ["DD","LD*","LD","NO D"], "range": ["#8C7A34","#8C7A34","#17375E","#4A6FA5"]}},
     "shape": {"datum": "LD", "type": "nominal", "scale": {"domain": ["DD","LD*","LD","NO D"], "range": ["square","square","triangle-up","circle"]}}
   }},
  {"data": {"name": "nod"},
   "mark": {"type": "point", "filled": true, "opacity": 1, "size": 78, "strokeWidth": 1.2},
   "encoding": {
     "fill": {"datum": "NO D", "type": "nominal", "scale": {"domain": ["DD","LD*","LD","NO D"], "range": ["#FF0000","#FFC000","#17375E","#A5A5A5"]}},
     "stroke": {"datum": "NO D", "type": "nominal", "scale": {"domain": ["DD","LD*","LD","NO D"], "range": ["#8C7A34","#8C7A34","#17375E","#4A6FA5"]}},
     "shape": {"datum": "NO D", "type": "nominal", "scale": {"domain": ["DD","LD*","LD","NO D"], "range": ["square","square","triangle-up","circle"]}}
   }}
]
}
